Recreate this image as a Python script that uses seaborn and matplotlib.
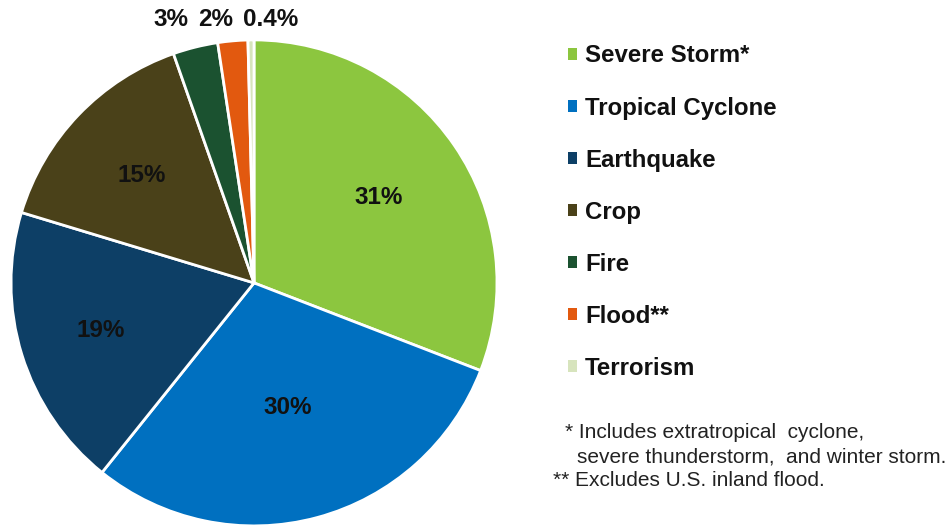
import numpy as np
import seaborn as sns
import matplotlib.pyplot as plt
from matplotlib.patches import Patch

categories = ["Severe Storm*", "Tropical Cyclone", "Earthquake", "Crop", "Fire", "Flood**", "Terrorism"]
shares = [31, 30, 19, 15, 3, 2, 0.4]
pct_labels = ["31%", "30%", "19%", "15%", "3%", "2%", "0.4%"]
colors = ["#8cc63f", "#0070c0", "#0d3f66", "#4a4119", "#1b5230", "#e2590f", "#d7e4bd"]

sns.set_style("white")
plt.rcParams['font.family'] = ['Liberation Sans', 'DejaVu Sans']
plt.rcParams['text.color'] = '#111111'

fig = plt.figure(figsize=(9.51, 5.29), dpi=100)
ax = fig.add_axes([0.0116, 0.0057, 0.511, 0.919])
palette = sns.color_palette(colors)

wedges, _ = ax.pie(shares, colors=palette, startangle=90, counterclock=False,
                   radius=1.0, wedgeprops=dict(edgecolor="white", linewidth=2))
ax.set_xlim(-1, 1)
ax.set_ylim(-1, 1)
ax.set_aspect("equal")
ax.axis("off")

# inside labels for big slices, small ones above the pie
top_x = [-0.34, -0.16, 0.07]
dist = [0.62, 0.53, 0.66, 0.64]
for i, w in enumerate(wedges):
    mid = np.deg2rad((w.theta1 + w.theta2) / 2)
    if i < 4:
        ax.text(dist[i] * np.cos(mid), dist[i] * np.sin(mid), pct_labels[i],
                ha="center", va="center", fontsize=17.5, fontweight="bold", color="#111111")
    else:
        ax.text(top_x[i - 4], 1.085, pct_labels[i], ha="center", va="center",
                fontsize=17.5, fontweight="bold", color="#111111", clip_on=False)

handles = [Patch(facecolor=c, edgecolor="none") for c in palette]
leg = fig.legend(handles, categories, loc="upper left", bbox_to_anchor=(0.597, 0.916),
                 frameon=False, prop=dict(weight="bold", size=17.3),
                 handlelength=0.38, handleheight=0.38, handletextpad=0.34,
                 labelspacing=1.21, borderpad=0, borderaxespad=0)

note_kw = dict(fontsize=15, color="#222222", va="center", ha="left")
fig.text(565 / 951, 1 - 433 / 529, "* Includes extratropical  cyclone,", **note_kw)
fig.text(577 / 951, 1 - 457 / 529, "severe thunderstorm,  and winter storm.", **note_kw)
fig.text(553 / 951, 1 - 480 / 529, "** Excludes U.S. inland flood.", **note_kw)

fig.savefig("out.png", dpi=100)
